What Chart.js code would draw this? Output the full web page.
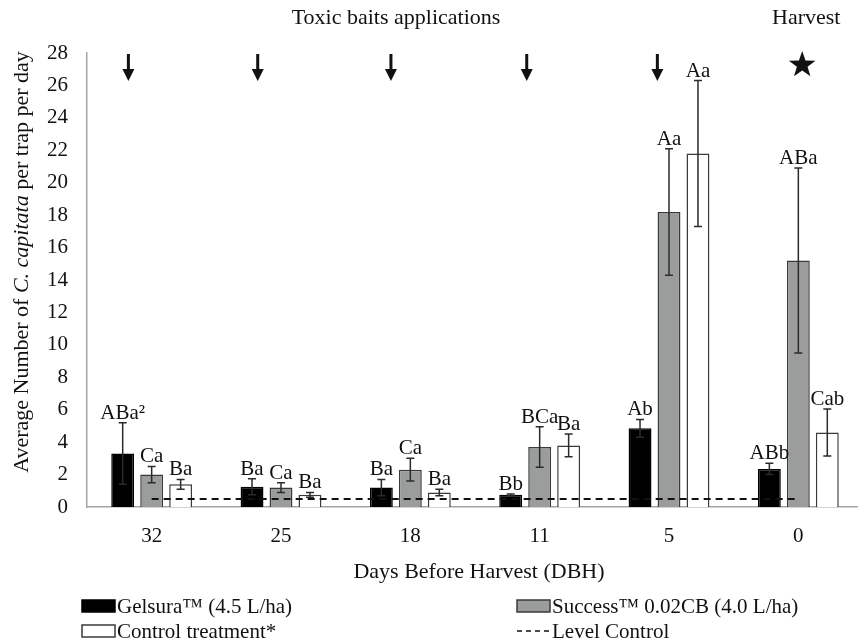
<!DOCTYPE html>
<html>
<head>
<meta charset="utf-8">
<script src="https://cdn.jsdelivr.net/npm/chart.js@4"></script>
<style>
  html, body { margin: 0; padding: 0; background: #fff; overflow: hidden; }
  #wrap { width: 866px; height: 644px; }
</style>
</head>
<body>
<div id="wrap"><canvas id="fliesChart" width="866" height="644"></canvas></div>
<script>
// Days before harvest
const days = ['32', '25', '18', '11', '5', '0'];
const yTicks = [0, 2, 4, 6, 8, 10, 12, 14, 16, 18, 20, 22, 24, 26, 28];

// Flies per trap per day (means and error)
const gelsura = [3.3, 1.25, 1.2, 0.75, 4.85, 2.35];
const gelsuraErr = [1.9, 0.5, 0.5, 0.05, 0.55, 0.35];
const success = [2.0, 1.2, 2.3, 3.7, 18.2, 15.2];
const successErr = [0.5, 0.3, 0.7, 1.25, 3.9, 5.7];
const control = [1.4, 0.75, 0.9, 3.8, 21.8, 4.6];
const controlErr = [0.3, 0.15, 0.2, 0.7, 4.5, 1.45];
const levelControl = [0.5, 0.5, 0.5, 0.5, 0.5, 0.5];

// Letters of significance above each bar
const gelsuraLetters = ['ABa²', 'Ba', 'Ba', 'Bb', 'Ab', 'ABb'];
const successLetters = ['Ca', 'Ca', 'Ca', 'BCa', 'Aa', 'ABa'];
const controlLetters = ['Ba', 'Ba', 'Ba', 'Ba', 'Aa', 'Cab'];

// Bait applications (arrows, in category units) and harvest (star)
const applications = [-0.18, 0.82, 1.85, 2.9, 3.91];
const harvest = 5.03;

const serif = "'Liberation Serif', 'Times New Roman', serif";

const extras = {
    id: 'extras',
    afterDatasetsDraw(chart) {
        const ctx = chart.ctx;
        const y = chart.scales.y;
        ctx.save();
        chart.data.datasets.forEach((ds, i) => {
            if (!ds.errors) return;
            const meta = chart.getDatasetMeta(i);
            meta.data.forEach((bar, j) => {
                const v = ds.data[j], e = ds.errors[j];
                const top = y.getPixelForValue(v + e);
                const bot = y.getPixelForValue(v - e);
                ctx.strokeStyle = '#2b2b2b';
                ctx.lineWidth = 1.5;
                ctx.beginPath();
                ctx.moveTo(bar.x, top); ctx.lineTo(bar.x, bot);
                ctx.moveTo(bar.x - 4, top); ctx.lineTo(bar.x + 4, top);
                ctx.moveTo(bar.x - 4, bot); ctx.lineTo(bar.x + 4, bot);
                ctx.stroke();
                ctx.fillStyle = '#111';
                ctx.font = '21px ' + serif;
                ctx.textAlign = 'center';
                ctx.textBaseline = 'alphabetic';
                ctx.fillText(ds.letters[j], bar.x, top - 4);
            });
        });
        ctx.restore();
    },
    afterDraw(chart) {
        const ctx = chart.ctx;
        const x = chart.scales.x;
        ctx.save();
        ctx.fillStyle = '#111';

        // top captions
        ctx.font = '22px ' + serif;
        ctx.textAlign = 'center';
        ctx.textBaseline = 'middle';
        ctx.fillText('Toxic baits applications', 396, 18);
        ctx.fillText('Harvest', x.getPixelForValue(harvest) + 4, 18);

        // arrows
        applications.forEach(a => {
            const ax = x.getPixelForValue(a);
            ctx.fillRect(ax - 1.5, 54, 3, 16);
            ctx.beginPath();
            ctx.moveTo(ax - 6, 69); ctx.lineTo(ax + 6, 69); ctx.lineTo(ax, 81);
            ctx.closePath();
            ctx.fill();
        });

        // star
        const sx = x.getPixelForValue(harvest), sy = 65;
        ctx.beginPath();
        for (let k = 0; k < 10; k++) {
            const r = k % 2 ? 5.6 : 14;
            const ang = -Math.PI / 2 + k * Math.PI / 5;
            ctx.lineTo(sx + r * Math.cos(ang), sy + r * Math.sin(ang));
        }
        ctx.closePath();
        ctx.fill();

        // x axis title
        ctx.fillText('Days Before Harvest (DBH)', 479, 572);

        // y axis title with italic species name
        const parts = [
            ['Average Number of ', '22px ' + serif],
            ['C. capitata', 'italic 22px ' + serif],
            [' per trap per day', '22px ' + serif]
        ];
        let total = 0;
        parts.forEach(p => { ctx.font = p[1]; total += ctx.measureText(p[0]).width; });
        ctx.translate(22, 262);
        ctx.rotate(-Math.PI / 2);
        ctx.textAlign = 'left';
        let cx = -total / 2;
        parts.forEach(p => {
            ctx.font = p[1];
            ctx.fillText(p[0], cx, 0);
            cx += ctx.measureText(p[0]).width;
        });
        ctx.restore();

        // legend, two columns
        ctx.save();
        const slots = [[82, 606], [517, 606], [82, 631], [517, 631]];
        chart.data.datasets.forEach((ds, i) => {
            const [lx, ly] = slots[i];
            if (ds.type === 'line') {
                ctx.strokeStyle = '#111';
                ctx.lineWidth = 1.5;
                ctx.setLineDash([5, 4]);
                ctx.beginPath();
                ctx.moveTo(lx, ly); ctx.lineTo(lx + 33, ly);
                ctx.stroke();
                ctx.setLineDash([]);
            } else {
                ctx.fillStyle = ds.backgroundColor;
                ctx.fillRect(lx, ly - 6, 33, 12);
                ctx.strokeStyle = ds.borderColor;
                ctx.lineWidth = 1.5;
                ctx.strokeRect(lx, ly - 6, 33, 12);
            }
            ctx.fillStyle = '#111';
            ctx.font = '21px ' + serif;
            ctx.textAlign = 'left';
            ctx.textBaseline = 'middle';
            ctx.fillText(ds.label, lx + 35, ly + 1);
        });
        ctx.restore();
    }
};

new Chart(document.getElementById('fliesChart'), {
    type: 'bar',
    data: {
        labels: days,
        datasets: [
            { label: 'Gelsura™ (4.5 L/ha)', data: gelsura, errors: gelsuraErr, letters: gelsuraLetters,
              backgroundColor: '#000', borderColor: '#000', borderWidth: 1.5, order: 1 },
            { label: 'Success™ 0.02CB (4.0 L/ha)', data: success, errors: successErr, letters: successLetters,
              backgroundColor: '#9b9d9d', borderColor: '#3a3a3a', borderWidth: 1.5, order: 1 },
            { label: 'Control treatment*', data: control, errors: controlErr, letters: controlLetters,
              backgroundColor: '#fff', borderColor: '#3a3a3a', borderWidth: 1.5, order: 1 },
            { type: 'line', label: 'Level Control', data: levelControl,
              borderColor: '#111', borderWidth: 2, borderDash: [7, 5], pointRadius: 0, fill: false, order: 0 }
        ]
    },
    options: {
        responsive: false,
        animation: false,
        categoryPercentage: 0.672,
        barPercentage: 0.79,
        layout: { padding: { top: 53, right: 3, left: 0, bottom: 0 } },
        plugins: { legend: { display: false }, tooltip: { enabled: false } },
        scales: {
            x: {
                grid: { display: false, drawTicks: false },
                border: { color: '#a6a6a6', width: 1.5 },
                ticks: { font: { family: serif, size: 21 }, color: '#111', padding: 17 },
                afterFit: s => { s.height = 137; }
            },
            y: {
                min: 0, max: 28,
                afterBuildTicks: s => { s.ticks = yTicks.map(v => ({ value: v })); },
                grid: { display: false, drawTicks: false },
                border: { color: '#a6a6a6', width: 1.5 },
                ticks: { font: { family: serif, size: 21 }, color: '#111', padding: 19 },
                afterFit: s => { s.width = 87; }
            }
        }
    },
    plugins: [extras]
});
</script>
</body>
</html>
